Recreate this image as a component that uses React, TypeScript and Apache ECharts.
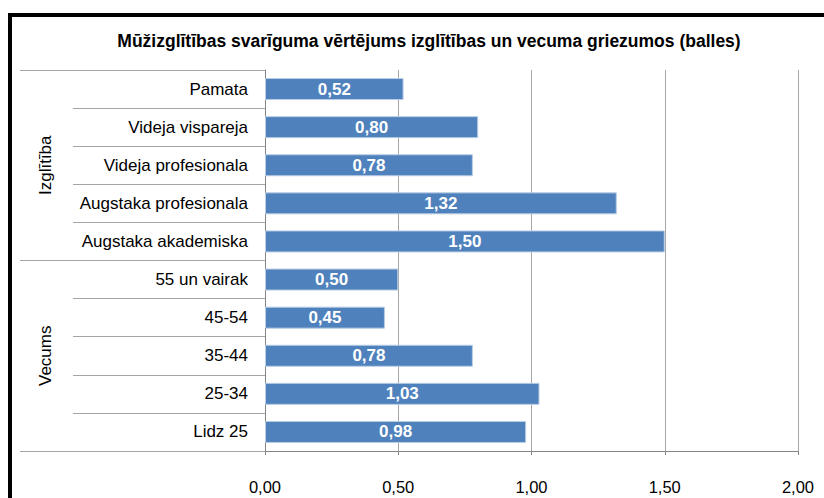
import React, { useEffect, useRef } from "react";
import * as echarts from "echarts";

const title = "Mūžizglītības svarīguma vērtējums izglītības un vecuma griezumos (balles)";
const categories = [
  "Pamata",
  "Videja vispareja",
  "Videja profesionala",
  "Augstaka profesionala",
  "Augstaka akademiska",
  "55 un vairak",
  "45-54",
  "35-44",
  "25-34",
  "Lidz 25",
];
const values = [0.52, 0.8, 0.78, 1.32, 1.5, 0.5, 0.45, 0.78, 1.03, 0.98];
const groups = ["Izglītība", "Vecums"];
const xMin = 0;
const xMax = 2;
const xInterval = 0.5;

const fmt = (v: number) => v.toFixed(2).replace(".", ",");
const FONT = "'Liberation Sans', Arial, sans-serif";

export default function App() {
  const ref = useRef<HTMLDivElement>(null);
  useEffect(() => {
    if (!ref.current) return;
    const chart = echarts.init(ref.current, null, { renderer: "svg" });
    chart.setOption({
      animation: false,
      backgroundColor: "#fff",
      textStyle: { fontFamily: FONT },
      title: {
        text: title,
        left: 424,
        top: 27,
        textAlign: "center",
        textStyle: { fontFamily: FONT, fontSize: 17.5, fontWeight: "bold", color: "#000" },
      },
      grid: { left: 265, right: 26, top: 70, bottom: 47, containLabel: false },
      xAxis: {
        type: "value",
        min: xMin,
        max: xMax,
        interval: xInterval,
        axisLine: { show: true, lineStyle: { color: "#868686", width: 1 } },
        axisTick: { show: true, length: 4, lineStyle: { color: "#868686" } },
        axisLabel: { formatter: (v: number) => fmt(v), fontSize: 16.5, color: "#000", margin: 27, fontFamily: FONT },
        splitLine: { show: true, lineStyle: { color: "#A6A6A6", width: 1 } },
      },
      yAxis: [
        {
          type: "category",
          data: categories,
          inverse: true,
          position: "left",
          axisLine: { show: true, lineStyle: { color: "#868686", width: 1 } },
          axisTick: { show: true, length: 192, interval: 0, lineStyle: { color: "#A6A6A6" } },
          axisLabel: { fontSize: 17, color: "#000", margin: 17, interval: 0, fontFamily: FONT },
          splitLine: { show: false },
        },
        {
          type: "category",
          data: groups,
          inverse: true,
          position: "left",
          offset: 0,
          axisLine: { show: false },
          axisTick: { show: true, length: 245, interval: 0, lineStyle: { color: "#A6A6A6" } },
          axisLabel: { fontSize: 17, color: "#000", rotate: 90, margin: 211, interval: 0, fontFamily: FONT },
          splitLine: { show: false },
        },
      ],
      series: [
        {
          type: "bar",
          yAxisIndex: 0,
          data: values,
          barWidth: 22,
          itemStyle: { color: "#4F81BD", borderColor: "#B9CDE5", borderWidth: 1 },
          label: {
            show: true,
            position: "inside",
            formatter: (p: any) => fmt(p.value),
            color: "#fff",
            fontWeight: "bold",
            fontSize: 17,
            fontFamily: FONT,
          },
        },
      ],
      graphic: [
        {
          type: "rect",
          shape: { x: 10, y: 15, width: 900, height: 600 },
          style: { fill: "none", stroke: "#000", lineWidth: 4 },
          silent: true,
        },
      ],
    });
    return () => chart.dispose();
  }, []);
  return (
    <div
      ref={ref}
      style={{ position: "absolute", left: 0, top: 0, width: 824, height: 498, background: "#fff" }}
    />
  );
}
